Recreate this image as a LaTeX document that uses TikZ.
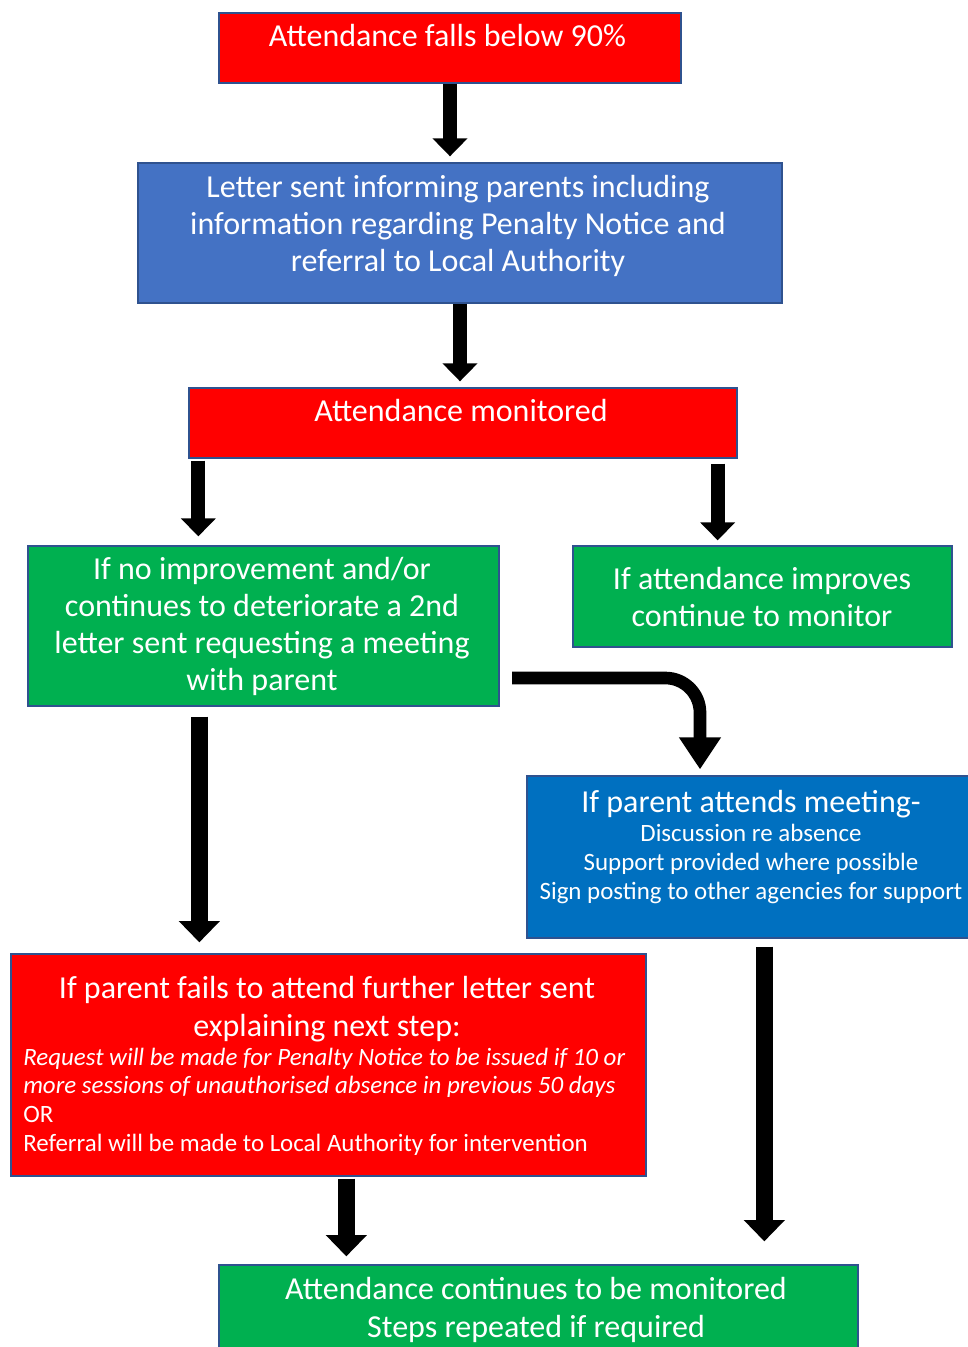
\documentclass[tikz,border=0pt]{standalone}
\usepackage{fontspec}
\setmainfont{Carlito}
\usetikzlibrary{arrows.meta,calc}
\definecolor{cred}{HTML}{FF0000}
\definecolor{cblueA}{HTML}{4472C4}
\definecolor{cblueB}{HTML}{0070C0}
\definecolor{cgreen}{HTML}{00B050}
\definecolor{cborder}{HTML}{2F528F}
\def\px{0.75pt}
\tikzset{
  box/.style={draw=cborder, line width=1pt, inner sep=0pt, rectangle},
  txt/.style={text=white, inner sep=0pt, align=center, anchor=base,
    font=\fontsize{24}{27.75}\selectfont},
  small/.style={text=white, inner sep=0pt, align=center, anchor=base,
    font=\fontsize{18.7}{21.75}\selectfont},
  thinarrow/.style={line width=10.5pt, -{Triangle[width=25.5pt,length=13.5pt]}},
  thickarrow/.style={line width=13pt, -{Triangle[width=30pt,length=16pt]}},
  curvearrow/.style={line width=9.5pt, rounded corners=26pt, -{Triangle[width=30pt,length=24pt]}}
}
\begin{document}
\begin{tikzpicture}[x=0.75pt, y=-0.75pt]
\useasboundingbox (0,0) rectangle (968,1347);
% boxes
\node[box, fill=cred,   minimum width=462*\px, minimum height=70*\px]  (b1) at (450,48) {};
\node[box, fill=cblueA, minimum width=644*\px, minimum height=140*\px] (b2) at (460,233) {};
\node[box, fill=cred,   minimum width=548*\px, minimum height=70*\px]  (b3) at (463,423) {};
\node[box, fill=cgreen, minimum width=471*\px, minimum height=160*\px] (b4) at (263.5,626) {};
\node[box, fill=cgreen, minimum width=379*\px, minimum height=101*\px] (b5) at (762.5,596.5) {};
\node[box, fill=cblueB, minimum width=445*\px, minimum height=162*\px] (b6) at (749.5,857) {};
\node[box, fill=cred,   minimum width=635*\px, minimum height=222*\px] (b7) at (328.5,1065) {};
\node[box, fill=cgreen, minimum width=639*\px, minimum height=95*\px]  (b8) at (538.5,1312.5) {};
% texts (base anchor = baseline of the last line)
\node[txt] (t1) at (447.5,46) {Attendance falls below 90\%};
\node[txt] (t2) at (458,271) {Letter sent informing parents including\\information regarding Penalty Notice and\\referral to Local Authority};
\node[txt] (t3) at (461,421) {Attendance monitored};
\node[txt] (t4) at (262,690) {If no improvement and/or\\continues to deteriorate a 2nd\\letter sent requesting a meeting\\with parent};
\node[txt] (t5) at (762,626) {If attendance improves\\continue to monitor};
\node[txt] (t6a) at (751,812) {If parent attends meeting-};
\node[small] (t6b) at (751,899) {Discussion re absence\\Support provided where possible\\Sign posting to other agencies for support};
\node[txt, font=\fontsize{24}{28.5}\selectfont] (t7a) at (327,1036) {If parent fails to attend further letter sent\\explaining next step:};
\node[small, anchor=base west, align=left, font=\fontsize{18.7}{21.4}\selectfont] (t7b) at (23,1151) {\textit{Request will be made for Penalty Notice to be issued if 10 or}\\\textit{more sessions of unauthorised absence in previous 50 days}\\OR\\Referral will be made to Local Authority for intervention};
\node[txt, font=\fontsize{24}{28.5}\selectfont] (t8) at (536,1337) {Attendance continues to be monitored\\Steps repeated if required};
% arrows
\draw[thinarrow, shorten >=4.5pt] (b1.south) -- (b1.south |- b2.north);
\draw[thinarrow, shorten >=4.5pt] (b2.south) -- (b2.south |- b3.north);
\path ([shift={(10,2)}]b3.south west) coordinate (a3s);
\draw[thinarrow, shorten >=6.75pt] (a3s) -- (a3s |- b4.north);
\path ([shift={(-20,5)}]b3.south east) coordinate (a4s);
\draw[thinarrow, shorten >=3.75pt] (a4s) -- (a4s |- b5.north);
\path ([shift={(172,10)}]b4.south west) coordinate (a5s);
\draw[thickarrow, shorten >=8.25pt] (a5s) -- (a5s |- b7.north);
\coordinate (cs) at (512,678);
\path ([shift={(-49.5,-6)}]b6.north) coordinate (ce);
\draw[curvearrow] (cs) -| (ce);
\path ([shift={(336,2)}]b7.south west) coordinate (a7s);
\draw[thickarrow, shorten >=6pt] (a7s) -- (a7s |- b8.north);
\path ([shift={(238,8)}]b6.south west) coordinate (a8s);
\draw[thickarrow, shorten >=17.25pt] (a8s) -- (a8s |- b8.north);
\end{tikzpicture}
\end{document}
